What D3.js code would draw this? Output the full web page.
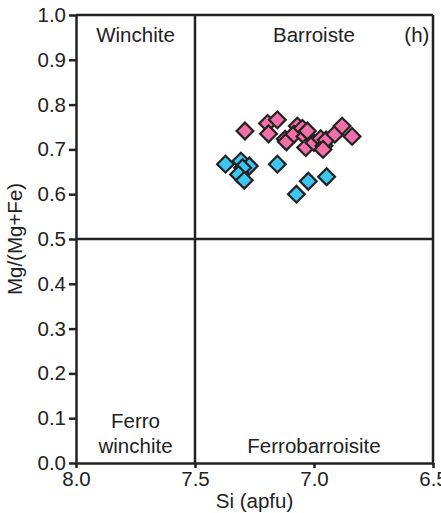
<!DOCTYPE html>
<html>
<head>
<meta charset="utf-8">
<script src="https://cdn.jsdelivr.net/npm/d3@7"></script>
<style>
body { margin: 0; background: #fff; }
svg { font-family: Arial, "Liberation Sans", sans-serif; }
</style>
</head>
<body>
<div id="chart"></div>
<script>
// pink group: [Si, Mg/(Mg+Fe)]
const pinkSi = [7.29, 7.195, 7.154, 7.191, 7.121, 7.116, 7.07, 7.084, 7.049, 7.038, 7.028, 7.035, 7.0, 6.972, 6.958, 6.949, 6.912, 6.882, 6.84, 6.962];
const pinkMg = [0.741, 0.758, 0.766, 0.735, 0.723, 0.717, 0.752, 0.734, 0.747, 0.729, 0.741, 0.704, 0.715, 0.724, 0.708, 0.721, 0.734, 0.752, 0.729, 0.700];
// blue group
const blueSi = [7.372, 7.307, 7.272, 7.3, 7.317, 7.293, 7.154, 7.024, 6.947, 7.074];
const blueMg = [0.667, 0.674, 0.663, 0.659, 0.644, 0.631, 0.667, 0.629, 0.639, 0.600];

const xTicks = [8.0, 7.5, 7.0, 6.5];
const yTicks = [0, 0.1, 0.2, 0.3, 0.4, 0.5, 0.6, 0.7, 0.8, 0.9, 1.0];

const fields = [
  {lines: ['Winchite'], x: 7.75, y: 0.94, anchor: 'middle'},
  {lines: ['Barroiste'], x: 7.0, y: 0.94, anchor: 'middle'},
  {lines: ['(h)'], x: 6.515, y: 0.94, anchor: 'end'},
  {lines: ['Ferro', 'winchite'], x: 7.75, y: 0.078, anchor: 'middle'},
  {lines: ['Ferrobarroisite'], x: 7.0, y: 0.022, anchor: 'middle'}
];

const width = 441;
const height = 513;
const margin = {top: 15, left: 76, bottom: 50, right: 8};

const x = d3.scaleLinear()
    .domain([8.0, 6.5])
    .range([margin.left, width - margin.right]);

const y = d3.scaleLinear()
    .domain([0, 1])
    .range([height - margin.bottom, margin.top]);

const svg = d3.select('#chart').append('svg')
    .attr('width', width)
    .attr('height', height);

const stroke = '#222';
const fs = 20.5;

const xAxis = g => g
    .attr('transform', `translate(0, ${y(0)})`)
    .call(d3.axisBottom(x).tickValues(xTicks).tickFormat(d3.format('.1f')).tickSize(5).tickSizeOuter(0))
    .call(g => g.selectAll('.tick line').attr('stroke', stroke).attr('stroke-width', 2.5))
    .call(g => g.select('.domain').attr('stroke', stroke).attr('stroke-width', 2.5))
    .call(g => g.selectAll('.tick text').attr('font-size', fs).attr('fill', '#222').attr('y', 8).attr('dy', '0.72em'));

const yAxis = g => g
    .attr('transform', `translate(${x(8.0)}, 0)`)
    .call(d3.axisLeft(y).tickValues(yTicks).tickFormat(d3.format('.1f')).tickSize(7).tickSizeOuter(0))
    .call(g => g.selectAll('.tick line').attr('stroke', stroke).attr('stroke-width', 2.5))
    .call(g => g.select('.domain').attr('stroke', stroke).attr('stroke-width', 2.5))
    .call(g => g.selectAll('.tick text').attr('font-size', fs).attr('fill', '#222').attr('x', -10));

// frame and field dividers
const frame = svg.append('g').attr('stroke', stroke).attr('stroke-width', 2.5).attr('fill', 'none');
frame.append('line').attr('x1', x(8.0)).attr('x2', x(6.5)).attr('y1', y(1)).attr('y2', y(1));
frame.append('line').attr('x1', x(6.5)).attr('x2', x(6.5)).attr('y1', y(1)).attr('y2', y(0));
frame.append('line').attr('x1', x(7.5)).attr('x2', x(7.5)).attr('y1', y(1)).attr('y2', y(0));
frame.append('line').attr('x1', x(8.0)).attr('x2', x(6.5)).attr('y1', y(0.5)).attr('y2', y(0.5));

svg.append('g').call(xAxis);
svg.append('g').call(yAxis);

// field names
const lab = svg.append('g').attr('font-size', fs).attr('fill', '#222');
fields.forEach(f => {
  const t = lab.append('text').attr('x', x(f.x)).attr('y', y(f.y)).attr('text-anchor', f.anchor);
  f.lines.forEach((s, i) => t.append('tspan').attr('x', x(f.x)).attr('dy', i ? 25 : 0).text(s));
});

// axis titles
svg.append('text')
    .attr('x', x(7.25)).attr('y', 508)
    .attr('text-anchor', 'middle').attr('font-size', fs).attr('fill', '#222')
    .text('Si (apfu)');
svg.append('text')
    .attr('transform', `translate(22, ${y(0.5)}) rotate(-90)`)
    .attr('text-anchor', 'middle').attr('font-size', fs).attr('fill', '#222')
    .text('Mg/(Mg+Fe)');

const diamond = d3.symbol().type(d3.symbolSquare).size(140);

const drawGroup = (si, mg, color) => svg.append('g')
    .selectAll('path').data(si.map((d, i) => [d, mg[i]])).enter().append('path')
    .attr('d', diamond)
    .attr('transform', d => `translate(${x(d[0])}, ${y(d[1])}) rotate(45)`)
    .attr('fill', color)
    .attr('stroke', stroke)
    .attr('stroke-width', 2.2);

drawGroup(blueSi, blueMg, '#3ec6f2');
drawGroup(pinkSi, pinkMg, '#f26fa8');
</script>
</body>
</html>
